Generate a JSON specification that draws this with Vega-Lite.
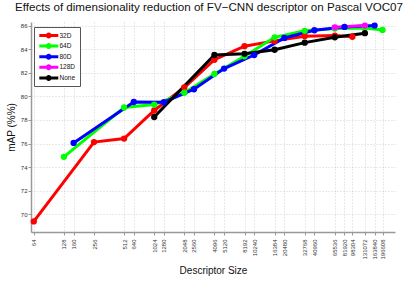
{
  "$schema": "https://vega.github.io/schema/vega-lite/v6.json",
  "autosize": "none",
  "width": 364,
  "height": 210,
  "padding": {"left": 31, "top": 22, "right": 12, "bottom": 49},
  "background": "white",
  "title": {"text": "Effects of dimensionality reduction of FV−CNN descriptor on Pascal VOC07", "fontSize": 11.6, "fontWeight": "normal", "font": "Liberation Sans", "color": "#111", "offset": 6, "anchor": "middle", "dx": -4},
  "config": {
    "view": {"stroke": null},
    "axis": {"labelFont": "Liberation Sans", "titleFont": "Liberation Sans", "labelColor": "#333", "titleColor": "#111", "gridColor": "#c8c8c8", "gridDash": [1, 2], "gridWidth": 0.8, "domainColor": "#999", "domainWidth": 1.5, "tickColor": "#999"}
  },
  "data": {"values": [
    {"series": "32D", "size": 64, "map": 69.4},
    {"series": "32D", "size": 256, "map": 76.12},
    {"series": "32D", "size": 512, "map": 76.42},
    {"series": "32D", "size": 1024, "map": 78.8},
    {"series": "32D", "size": 2048, "map": 80.75},
    {"series": "32D", "size": 4096, "map": 83.1},
    {"series": "32D", "size": 8192, "map": 84.25},
    {"series": "32D", "size": 16384, "map": 84.7},
    {"series": "32D", "size": 32768, "map": 85.1},
    {"series": "32D", "size": 65536, "map": 85.15},
    {"series": "32D", "size": 98304, "map": 85.05},
    {"series": "64D", "size": 128, "map": 74.87},
    {"series": "64D", "size": 512, "map": 79.05},
    {"series": "64D", "size": 1024, "map": 79.3},
    {"series": "64D", "size": 2048, "map": 80.3},
    {"series": "64D", "size": 4096, "map": 81.9},
    {"series": "64D", "size": 8192, "map": 83.4},
    {"series": "64D", "size": 16384, "map": 85.0},
    {"series": "64D", "size": 32768, "map": 85.55},
    {"series": "64D", "size": 65536, "map": 85.75},
    {"series": "64D", "size": 131072, "map": 85.8},
    {"series": "64D", "size": 196608, "map": 85.62},
    {"series": "80D", "size": 160, "map": 76.05},
    {"series": "80D", "size": 640, "map": 79.52},
    {"series": "80D", "size": 1280, "map": 79.5},
    {"series": "80D", "size": 2560, "map": 80.6},
    {"series": "80D", "size": 5120, "map": 82.35},
    {"series": "80D", "size": 10240, "map": 83.5},
    {"series": "80D", "size": 20480, "map": 84.95},
    {"series": "80D", "size": 40960, "map": 85.6},
    {"series": "80D", "size": 81920, "map": 85.88},
    {"series": "80D", "size": 163840, "map": 86.0},
    {"series": "128D", "size": 65536, "map": 85.85},
    {"series": "128D", "size": 131072, "map": 86.0},
    {"series": "None", "size": 1024, "map": 78.25},
    {"series": "None", "size": 4096, "map": 83.5},
    {"series": "None", "size": 8192, "map": 83.6},
    {"series": "None", "size": 16384, "map": 83.95},
    {"series": "None", "size": 32768, "map": 84.55},
    {"series": "None", "size": 65536, "map": 85.0},
    {"series": "None", "size": 131072, "map": 85.35}
  ]},
  "encoding": {
    "x": {"field": "size", "type": "quantitative",
      "scale": {"type": "log", "domain": [60, 262144], "nice": false},
      "axis": {"title": "Descriptor Size", "titleFontSize": 10, "titleFontWeight": "normal", "titlePadding": 6,
        "values": [64,128,160,256,512,640,1024,1280,2048,2560,4096,5120,8192,10240,16384,20480,32768,40960,65536,81920,98304,131072,163840,196608],
        "labelAngle": -90, "labelFontSize": 6, "labelPadding": 4, "tickSize": 3, "labelOverlap": false, "labelFlush": false, "format": "d", "grid": true}},
    "y": {"field": "map", "type": "quantitative",
      "scale": {"domain": [68.5, 86.3], "nice": false, "zero": false},
      "axis": {"title": "mAP (%%)", "titleFontSize": 10, "titleFontWeight": "normal", "titlePadding": 4,
        "values": [70,72,74,76,78,80,82,84,86], "labelFontSize": 6, "labelPadding": 1, "tickSize": 3, "grid": true}},
    "color": {"field": "series", "type": "nominal",
      "scale": {"domain": ["32D", "64D", "80D", "128D", "None"], "range": ["#ff0000", "#00ff00", "#0000ff", "#ff00ff", "#000000"]},
      "legend": {"title": null, "orient": "none", "legendX": 3, "legendY": 5,
         "symbolType": "M-0.8,-0.375L3.95,-0.375L3.95,0.375L-0.8,0.375Z M0.8,0A0.75,0.75 0 1,1 2.3,0A0.75,0.75 0 1,1 0.8,0Z",
         "symbolSize": 64, "symbolStrokeWidth": 0, "symbolOpacity": 1, "labelOffset": 13, "labelFontSize": 6.5, "labelFont": "Liberation Sans", "labelColor": "#111",
         "rowPadding": 2.6, "padding": 4.5, "strokeColor": "#555", "fillColor": "white", "cornerRadius": 0,
         "encode": {"symbols": {"update": {"fill": {"scale": "color", "field": "value"}, "stroke": {"value": "transparent"}, "opacity": {"value": 1}}}}}},
    "order": {"field": "size", "type": "quantitative"}
  },
  "layer": [
    {"mark": {"type": "line", "strokeWidth": 3}},
    {"mark": {"type": "point", "filled": true, "size": 40, "opacity": 1}}
  ]
}
